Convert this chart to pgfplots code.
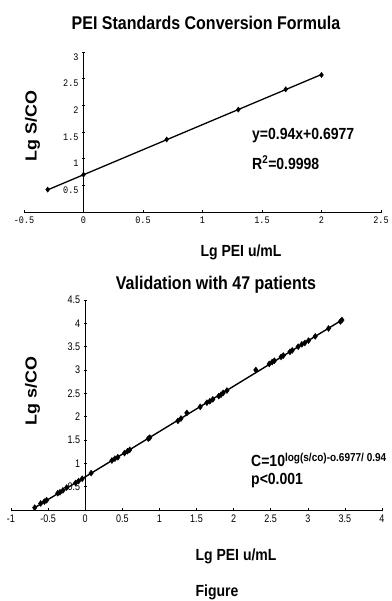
\documentclass[border=0pt]{standalone}
\usepackage{fontspec}
\setmainfont{Liberation Sans}
% tall, narrow faces for the horizontal texts; long faces for the rotated ones
\newfontfamily\hfont[FakeStretch=0.87]{Liberation Sans}
\newfontfamily\vfont[FakeStretch=1.12]{Liberation Sans}
\newfontfamily\tickmono[FakeStretch=0.85]{Liberation Mono}
\newfontfamily\narrowsans[FakeStretch=0.82]{Liberation Sans}
\usepackage{pgfplots}
\pgfplotsset{compat=1.18}

\pgfplotsset{
  excelaxis/.style={
    scale only axis,
    axis x line=bottom,
    axis y line=middle,
    axis line style={-, line width=0.8pt, black},
    tick style={black, line width=0.6pt},
    major tick length=3pt,
    tick align=center,
    clip=false,
    /pgf/number format/assume math mode=true,
    every axis plot/.append style={black},
  },
}

\begin{document}
\begin{tikzpicture}[x=1pt,y=1pt]
\path[use as bounding box] (0pt,0pt) rectangle (391pt,601pt);

% ---------- standards curve ----------
\begin{axis}[
  excelaxis,
  at={(24pt,389pt)}, anchor=south west,
  width=357pt, height=160pt,
  xmin=-0.5, xmax=2.5, ymin=0, ymax=3,
  xtick={-0.5,0,0.5,1,1.5,2,2.5},
  ytick={0.5,1,1.5,2,2.5,3},
  ticklabel style={font=\tickmono\fontsize{10}{12}\selectfont},
  yticklabel style={yshift=-5pt},
]
\addplot[line width=1.3pt] coordinates {(-0.301,0.415) (2.0,2.578)};
\addplot[only marks, mark=diamond*, mark size=2.6pt] coordinates {
  (-0.301,0.42) (0,0.70) (0.699,1.36) (1.301,1.92) (1.699,2.30) (2.0,2.57)
};
\end{axis}

\node[font=\hfont\bfseries\fontsize{18.4}{21}\selectfont] at (206pt,578pt) {PEI Standards Conversion Formula};
\node[font=\vfont\bfseries\fontsize{16}{19}\selectfont, rotate=90] at (32.5pt,475pt) {Lg S/CO};
\node[font=\hfont\bfseries\fontsize{16.1}{19}\selectfont] at (241pt,349pt) {Lg PEI u/mL};
\node[font=\hfont\bfseries\fontsize{16.1}{19}\selectfont, anchor=west, inner sep=0pt] at (252pt,465pt) {y=0.94x+0.6977};
\node[font=\hfont\bfseries\fontsize{16.1}{19}\selectfont, anchor=west, inner sep=0pt] at (252pt,438pt) {R\textsuperscript{2}=0.9998};

% ---------- validation set ----------
\begin{axis}[
  excelaxis,
  at={(11pt,91pt)}, anchor=south west,
  width=371pt, height=210pt,
  xmin=-1, xmax=4, ymin=0, ymax=4.5,
  xtick={-1,-0.5,0,0.5,1,1.5,2,2.5,3,3.5,4},
  ytick={0.5,1,1.5,2,2.5,3,3.5,4,4.5},
  ticklabel style={font=\narrowsans\fontsize{11}{13}\selectfont},
]
\addplot[line width=1.4pt] coordinates {(-0.70,0.03) (3.47,4.08)};
\addplot[only marks, mark=diamond*, mark size=3pt] coordinates {
  (-0.68,0.05) (-0.60,0.14) (-0.55,0.18) (-0.52,0.21) (-0.37,0.36)
  (-0.34,0.38) (-0.30,0.42) (-0.25,0.48) (-0.13,0.58) (-0.09,0.62)
  (-0.04,0.67) (0.08,0.79) (0.36,1.06) (0.40,1.10) (0.44,1.13)
  (0.53,1.22) (0.57,1.26) (0.60,1.29) (0.85,1.53) (0.87,1.55)
  (1.25,1.91) (1.29,1.96) (1.37,2.08) (1.55,2.21) (1.64,2.30)
  (1.68,2.33) (1.72,2.37) (1.80,2.44) (1.83,2.47) (1.86,2.51)
  (1.91,2.56) (2.30,3.00) (2.48,3.13) (2.52,3.17) (2.55,3.20)
  (2.64,3.28) (2.67,3.31) (2.76,3.39) (2.79,3.42) (2.87,3.50)
  (2.92,3.55) (2.96,3.58) (3.01,3.63) (3.10,3.72) (3.28,3.89)
  (3.44,4.04) (3.46,4.07)
};
\end{axis}

\node[font=\hfont\bfseries\fontsize{18.4}{21}\selectfont] at (216pt,316pt) {Validation with 47 patients};
\node[font=\vfont\bfseries\fontsize{16}{19}\selectfont, rotate=90] at (32.5pt,210pt) {Lg s/CO};
\node[font=\hfont\bfseries\fontsize{16.1}{19}\selectfont] at (236pt,45pt) {Lg PEI u/mL};
\node[font=\hfont\bfseries\fontsize{16.1}{19}\selectfont, anchor=west, inner sep=0pt] at (251pt,141pt)
  {C=10\raisebox{5.5pt}{\fontsize{11.5}{13}\selectfont log(s/co)-o.6977/ 0.94}};
\node[font=\hfont\bfseries\fontsize{16.1}{19}\selectfont, anchor=west, inner sep=0pt] at (251pt,120pt) {p<0.001};
\node[font=\hfont\bfseries\fontsize{16.1}{19}\selectfont] at (217pt,9pt) {Figure};
\end{tikzpicture}
\end{document}
